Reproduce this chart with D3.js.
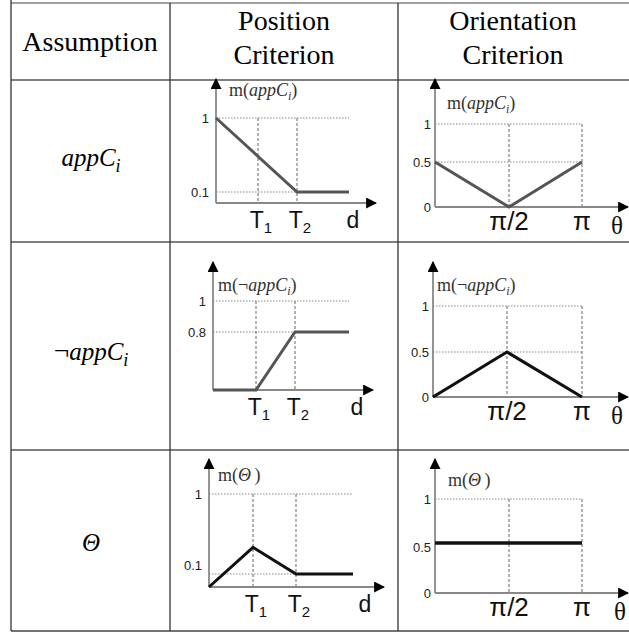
<!DOCTYPE html>
<html><head><meta charset="utf-8">
<script src="https://cdn.jsdelivr.net/npm/d3@7"></script>
<style>body{margin:0;background:#fff}</style>
</head><body>
<svg id="c" width="629" height="633"></svg>
<script>
// ---------- data ----------
const headerAssumption = "Assumption";
const headerPosition = ["Position", "Criterion"];
const headerOrientation = ["Orientation", "Criterion"];
const assumptionNames = ["appC_i", "¬appC_i", "Θ"];

const posXLabels = ["T1", "T2", "d"];           // tick labels on distance axis
const posXKeys = [0, 1, 2, 3];                   // 0, T1, T2, end of plot
const oriXKeys = [0, Math.PI / 2, Math.PI];
const oriXLabels = ["π/2", "π", "θ"];

const posAppX = [0, 2, 3];      const posAppY = [1, 0.1, 0.1];
const posNotX = [0, 1, 2, 3];   const posNotY = [0, 0, 0.8, 0.8];
const posThX  = [0, 1, 2, 3];   const posThY  = [0, 0.4, 0.1, 0.1];

const oriAppY = [0.5, 0, 0.5];
const oriNotY = [0, 0.5, 0];
const oriThY  = [0.5, 0.5, 0.5];

const posTicksApp = [0.1, 1];
const posTicksNot = [0.8, 1];
const posTicksTh  = [0.1, 1];
const oriTicks    = [0, 0.5, 1];

// ---------- layout ----------
const svg = d3.select("#c");
const serif = "'Liberation Serif','Times New Roman',serif";
const sans = "'Liberation Sans',Arial,sans-serif";

// table
const colX = [11, 170, 398];
const rowY = [3, 80, 242, 450, 631];
const tbl = svg.append("g");
rowY.forEach((y, i) => tbl.append("line").attr("x1", 11).attr("x2", 629).attr("y1", y).attr("y2", y)
  .attr("stroke", i === 0 || i === 4 ? "#444" : "#555").attr("stroke-width", i === 0 ? 1.2 : 1.6));
colX.forEach(x => tbl.append("line").attr("x1", x).attr("x2", x).attr("y1", 3).attr("y2", 631)
  .attr("stroke", "#333").attr("stroke-width", 1.3));
tbl.append("line").attr("x1", 11).attr("x2", 11).attr("y1", 0).attr("y2", 3).attr("stroke", "#333").attr("stroke-width", 1.3);

const hfs = 28;
svg.append("text").attr("x", 90).attr("y", 51).attr("text-anchor", "middle")
  .attr("font-family", serif).attr("font-size", hfs).text(headerAssumption);
[[284, headerPosition], [513, headerOrientation]].forEach(([cx, lines]) => {
  lines.forEach((t, i) => svg.append("text").attr("x", cx).attr("y", 30 + i * 34)
    .attr("text-anchor", "middle").attr("font-family", serif).attr("font-size", hfs).text(t));
});

// row labels
function mathLabel(sel, name, size) {
  const t = sel.attr("font-family", serif).attr("font-size", size);
  if (name === "Θ") { t.append("tspan").attr("font-style", "italic").text("Θ"); return t; }
  let base = name.replace("_i", "");
  if (base.startsWith("¬")) { t.append("tspan").attr("font-size", size * 1.1).text("¬"); base = base.slice(1); }
  t.append("tspan").attr("font-style", "italic").text(base);
  t.append("tspan").attr("font-style", "italic").attr("font-size", size * 0.72).attr("dy", size * 0.22).text("i");
  return t;
}
const rowCenters = [166, 360, 551];
assumptionNames.forEach((n, i) => {
  mathLabel(svg.append("text").attr("x", 91).attr("y", rowCenters[i]).attr("text-anchor", "middle"), n, 25);
});

// arrow marker
const defs = svg.append("defs");
defs.append("marker").attr("id", "arr").attr("viewBox", "0 0 10 10").attr("refX", 9).attr("refY", 5)
  .attr("markerWidth", 11).attr("markerHeight", 11).attr("markerUnits", "userSpaceOnUse").attr("orient", "auto")
  .append("path").attr("d", "M0,0L10,5L0,10Z").attr("fill", "#000");

function yLabel(g, x, y, name) {
  const fs = 18;
  const t = g.append("text").attr("x", x).attr("y", y).attr("font-family", serif).attr("font-size", fs).attr("fill", "#333");
  t.append("tspan").text("m(");
  if (name === "Θ") {
    t.append("tspan").attr("font-style", "italic").text("Θ");
    t.append("tspan").text("\u2009)");
    return;
  }
  let base = name.replace("_i", "");
  if (base.startsWith("¬")) { t.append("tspan").text("¬"); base = base.slice(1); }
  t.append("tspan").attr("font-style", "italic").text(base);
  t.append("tspan").attr("font-style", "italic").attr("font-size", 12).attr("dy", 4).text("i");
  t.append("tspan").attr("dy", -4).text(")");
}

function panel(cfg) {
  const g = svg.append("g");
  const x = d3.scaleLinear().domain(cfg.xKeys).range(cfg.xRange);
  const y = d3.scaleLinear().domain([0, cfg.midVal, 1]).range([cfg.axisY, cfg.midY, cfg.oneY]);
  const xMax = cfg.xRange[cfg.xRange.length - 1];
  // horizontal dotted grid
  cfg.ticks.filter(v => v > 0).forEach(v => g.append("line").attr("x1", x(0)).attr("x2", xMax)
    .attr("y1", y(v)).attr("y2", y(v)).attr("stroke", "#888").attr("stroke-width", 1).attr("stroke-dasharray", "1.5,1.5"));
  // vertical dashed grid
  cfg.vKeys.forEach(k => g.append("line").attr("x1", x(k)).attr("x2", x(k)).attr("y1", y(1)).attr("y2", y(0))
    .attr("stroke", "#666").attr("stroke-width", 1).attr("stroke-dasharray", "3,2"));
  // axes with arrows
  g.append("line").attr("x1", x(0)).attr("x2", x(0)).attr("y1", y(0)).attr("y2", cfg.arrowTop)
    .attr("stroke", "#888").attr("stroke-width", 1.8).attr("marker-end", "url(#arr)");
  g.append("line").attr("x1", x(0)).attr("x2", cfg.arrowX).attr("y1", y(0)).attr("y2", y(0))
    .attr("stroke", "#888").attr("stroke-width", 1.8).attr("marker-end", "url(#arr)");
  // y tick labels
  const ax = d3.axisLeft(y).tickValues(cfg.ticks).tickSize(0).tickPadding(cfg.tickPad).tickFormat(d3.format("~g"));
  const ag = g.append("g").attr("transform", `translate(${x(0)},0)`).call(ax);
  ag.select(".domain").remove();
  ag.selectAll("text").attr("font-family", sans).attr("font-size", 13).attr("fill", "#222");
  ag.selectAll(".tick").filter(d => d === cfg.midVal).select("text").attr("y", cfg.midDy || 0);
  // series line
  const pts = cfg.xs.map((k, i) => [x(k), y(cfg.ys[i])]);
  g.append("path").attr("d", d3.line()(pts)).attr("fill", "none").attr("stroke", cfg.color)
    .attr("stroke-width", cfg.width).attr("stroke-linejoin", "miter");
  // y label
  yLabel(g, x(0) + cfg.labelDx, cfg.labelY, cfg.name);
  // x labels
  const by = y(0) + cfg.xlabOff;
  cfg.xLabelKeys.forEach((k, i) => {
    const lab = cfg.xLabels[i];
    const px = k === null ? cfg.lastLabelX : x(k);
    const t = g.append("text").attr("x", px).attr("y", by).attr("text-anchor", "middle").attr("fill", "#111");
    if (/^T\d$/.test(lab)) {
      t.attr("font-family", sans).attr("font-size", 23).attr("dx", 3);
      t.append("tspan").text("T");
      t.append("tspan").attr("font-size", 15).attr("dy", 5).text(lab[1]);
    } else if (lab === "θ") {
      t.attr("font-family", serif).attr("font-size", 25).attr("dy", 4).text(lab);
    } else if (lab === "d") {
      t.attr("font-family", sans).attr("font-size", 23).text(lab);
    } else {
      t.attr("font-family", sans).attr("font-size", 26).text(lab);
    }
  });
}

const posCommon = { xKeys: posXKeys, vKeys: [1, 2], xLabels: posXLabels, xLabelKeys: [1, 2, null], tickPad: 7, xlabOff: 25 };
const oriCommon = { xKeys: oriXKeys, vKeys: [Math.PI / 2, Math.PI], xLabels: oriXLabels, xLabelKeys: [Math.PI / 2, Math.PI, null], tickPad: 4, xlabOff: 23, ticks: oriTicks, midVal: 0.5 };

panel({ ...posCommon, name: "appC_i", xs: posAppX, ys: posAppY, ticks: posTicksApp, midVal: 0.1,
  xRange: [216, 258, 297, 349], axisY: 203, midY: 192, oneY: 118, arrowTop: 79, arrowX: 376,
  lastLabelX: 353, labelDx: 13, labelY: 96, color: "#555", width: 3 });
panel({ ...posCommon, name: "¬appC_i", xs: posNotX, ys: posNotY, ticks: posTicksNot, midVal: 0.8,
  xRange: [213, 256, 295, 349], axisY: 390, midY: 332, oneY: 301, arrowTop: 262, arrowX: 373,
  lastLabelX: 357, labelDx: 5, labelY: 291, color: "#555", width: 3 });
panel({ ...posCommon, name: "Θ", xs: posThX, ys: posThY, ticks: posTicksTh, midVal: 0.1, midDy: -9,
  xRange: [209, 253, 296, 353], axisY: 587, midY: 574, oneY: 494, arrowTop: 459, arrowX: 384,
  lastLabelX: 365, labelDx: 9, labelY: 481, color: "#111", width: 3 });

panel({ ...oriCommon, name: "appC_i", xs: oriXKeys, ys: oriAppY,
  xRange: [435, 509, 582], axisY: 207, midY: 162, oneY: 124, arrowTop: 79, arrowX: 628,
  lastLabelX: 617, labelDx: 12, labelY: 109, color: "#555", width: 3 });
panel({ ...oriCommon, name: "¬appC_i", xs: oriXKeys, ys: oriNotY,
  xRange: [433, 507, 582], axisY: 397, midY: 352, oneY: 306, arrowTop: 262, arrowX: 628,
  lastLabelX: 617, labelDx: 4, labelY: 291, color: "#111", width: 3.2 });
panel({ ...oriCommon, name: "Θ", xs: oriXKeys, ys: oriThY, midDy: 4,
  xRange: [435, 509, 582], axisY: 593, midY: 543, oneY: 499, arrowTop: 459, arrowX: 628,
  lastLabelX: 620, labelDx: 13, labelY: 486, color: "#111", width: 3.5 });
</script>
</body></html>
